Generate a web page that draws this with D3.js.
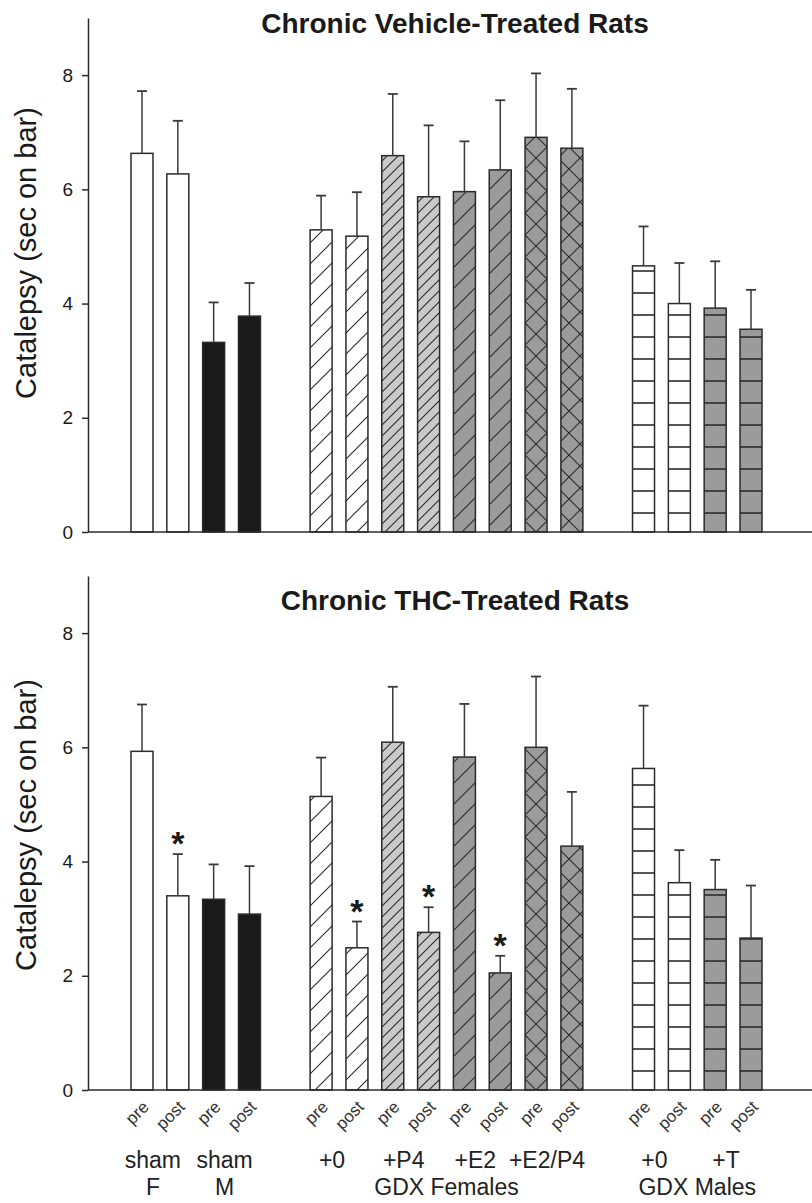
<!DOCTYPE html>
<html>
<head>
<meta charset="utf-8">
<script src="https://cdn.jsdelivr.net/npm/d3@7"></script>
<style>
  html, body { margin: 0; padding: 0; background: #fff; }
  svg { display: block; font-family: "Liberation Sans", Arial, sans-serif; }
</style>
</head>
<body>
<svg id="chart" width="812" height="1203"></svg>
<script>
/* ── DATA ───────────────────────────────────────────────────────────────────── */
const conditions = ['shamF', 'shamM', 'gdxF0', 'gdxFP4', 'gdxFE2', 'gdxFE2P4', 'gdxM0', 'gdxMT'];
const phases     = ['pre', 'post'];
const groupLine1 = ['sham', 'sham', '+0', '+P4', '+E2', '+E2/P4', '+0', '+T'];
const groupLine2 = ['F', 'M', '', '', '', '', '', ''];
const sections   = ['GDX Females', 'GDX Males'];
const sectionMembers = [['gdxF0', 'gdxFP4', 'gdxFE2', 'gdxFE2P4'], ['gdxM0', 'gdxMT']];

// slot order on the x axis, gaps included
const slots = [
  'shamF-pre', 'shamF-post', 'shamM-pre', 'shamM-post', 'gap1',
  'gdxF0-pre', 'gdxF0-post', 'gdxFP4-pre', 'gdxFP4-post',
  'gdxFE2-pre', 'gdxFE2-post', 'gdxFE2P4-pre', 'gdxFE2P4-post', 'gap2',
  'gdxM0-pre', 'gdxM0-post', 'gdxMT-pre', 'gdxMT-post'
];

const yTicks = [0, 2, 4, 6, 8];

// mean catalepsy (sec on bar) and SEM, one value per condition x phase
const vehicleMean = [6.63, 6.27, 3.32, 3.78, 5.29, 5.18, 6.59, 5.87, 5.96, 6.34, 6.91, 6.72, 4.66, 4.00, 3.92, 3.55];
const vehicleSem  = [1.09, 0.93, 0.70, 0.58, 0.60, 0.77, 1.08, 1.25, 0.88, 1.22, 1.12, 1.04, 0.69, 0.71, 0.82, 0.69];
const thcMean     = [5.93, 3.40, 3.34, 3.08, 5.14, 2.49, 6.09, 2.76, 5.83, 2.05, 6.00, 4.27, 5.63, 3.63, 3.51, 2.66];
const thcSem      = [0.82, 0.73, 0.61, 0.84, 0.68, 0.46, 0.97, 0.44, 0.93, 0.30, 1.24, 0.95, 1.10, 0.57, 0.52, 0.92];
const thcSignificant = ['shamF-post', 'gdxF0-post', 'gdxFP4-post', 'gdxFE2-post'];

const titles = ['Chronic Vehicle-Treated Rats', 'Chronic THC-Treated Rats'];
const yLabel = 'Catalepsy (sec on bar)';

/* ── STYLE ──────────────────────────────────────────────────────────────────── */
const INK   = '#2b2b2b';
const GRAY  = '#9b9b9b';
const LIGHT = '#cacaca';
const BLACK = '#1a1a1a';

const FILL = {
  shamF:    () => '#ffffff',
  shamM:    () => BLACK,
  gdxF0:    p => `url(#${p}-diagWhite)`,
  gdxFP4:   p => `url(#${p}-diagDense)`,
  gdxFE2:   p => `url(#${p}-diagGray)`,
  gdxFE2P4: p => `url(#${p}-cross)`,
  gdxM0:    p => `url(#${p}-hWhite)`,
  gdxMT:    p => `url(#${p}-hGray)`
};

const svg = d3.select('#chart');
svg.append('rect').attr('width', 812).attr('height', 1203).attr('fill', '#fff');
const defs = svg.append('defs');

/* ── SCALES ─────────────────────────────────────────────────────────────────── */
const x = d3.scaleBand()
  .domain(slots)
  .range([131, 762])
  .paddingInner(0.386)
  .paddingOuter(0);

const AXIS_X = 88;

function rows(mean, sem) {
  const out = [];
  conditions.forEach((c, ci) => {
    phases.forEach((ph, pi) => {
      const i = ci * 2 + pi;
      out.push({ key: `${c}-${ph}`, cond: c, phase: ph, mean: mean[i], sem: sem[i] });
    });
  });
  return out;
}

/* ── PATTERNS ───────────────────────────────────────────────────────────────── */
function addPatterns(prefix, y0) {
  const diag = (id, bg, s) => {
    const p = defs.append('pattern')
      .attr('id', `${prefix}-${id}`)
      .attr('patternUnits', 'userSpaceOnUse')
      .attr('width', s).attr('height', s)
      .attr('y', y0);
    p.append('rect').attr('width', s).attr('height', s).attr('fill', bg);
    p.append('path')
      .attr('d', `M0,${s} L${s},0 M${-s / 2},${s / 2} L${s / 2},${-s / 2} M${s / 2},${s * 1.5} L${s * 1.5},${s / 2}`)
      .attr('stroke', INK).attr('stroke-width', 1.1);
  };
  diag('diagWhite', '#fff', 21);
  diag('diagDense', LIGHT, 11);
  diag('diagGray', GRAY, 21);

  const s = 22;
  const cross = defs.append('pattern')
    .attr('id', `${prefix}-cross`)
    .attr('patternUnits', 'userSpaceOnUse')
    .attr('width', s).attr('height', s)
    .attr('x', 8).attr('y', y0);
  cross.append('rect').attr('width', s).attr('height', s).attr('fill', GRAY);
  cross.append('path')
    .attr('d', `M0,${s} L${s},0 M0,0 L${s},${s} M${-s / 2},${s / 2} L${s / 2},${-s / 2} M${s / 2},${s * 1.5} L${s * 1.5},${s / 2} M${-s / 2},${s / 2} L${s / 2},${s * 1.5} M${s / 2},${-s / 2} L${s * 1.5},${s / 2}`)
    .attr('stroke', INK).attr('stroke-width', 1.1);

  const horiz = (id, bg) => {
    const p = defs.append('pattern')
      .attr('id', `${prefix}-${id}`)
      .attr('patternUnits', 'userSpaceOnUse')
      .attr('width', 10).attr('height', 22)
      .attr('y', y0 - 19 - 11);
    p.append('rect').attr('width', 10).attr('height', 22).attr('fill', bg);
    p.append('line').attr('x1', 0).attr('x2', 10).attr('y1', 11).attr('y2', 11)
      .attr('stroke', INK).attr('stroke-width', 1.6);
  };
  horiz('hWhite', '#fff');
  horiz('hGray', GRAY);
}

/* ── PANEL ──────────────────────────────────────────────────────────────────── */
function drawPanel(opts) {
  const { prefix, y0, yTop, title, titleY, labelY, data, stars, xLabels } = opts;
  addPatterns(prefix, y0);

  const y = d3.scaleLinear().domain([0, 9]).range([y0, yTop]);
  const g = svg.append('g').attr('class', prefix);

  // title
  g.append('text')
    .attr('x', 455).attr('y', titleY)
    .attr('text-anchor', 'middle')
    .attr('font-size', 28).attr('font-weight', 'bold')
    .attr('fill', BLACK)
    .text(title);

  // y axis
  const yAxis = g.append('g')
    .attr('transform', `translate(${AXIS_X},0)`)
    .call(d3.axisLeft(y).tickValues(yTicks).tickSize(6).tickSizeOuter(0).tickPadding(9));
  yAxis.select('.domain').attr('stroke', INK).attr('stroke-width', 1.5);
  yAxis.selectAll('.tick line').attr('stroke', INK).attr('stroke-width', 1.5);
  yAxis.selectAll('.tick text')
    .attr('font-size', 19).attr('fill', BLACK)
    .attr('font-family', '"Liberation Sans", Arial, sans-serif');

  g.append('text')
    .attr('transform', `translate(36,${labelY}) rotate(-90)`)
    .attr('text-anchor', 'middle')
    .attr('font-size', 29)
    .attr('fill', BLACK)
    .text(yLabel);

  // bars
  g.selectAll('rect.bar')
    .data(data)
    .join('rect')
    .attr('class', 'bar')
    .attr('x', d => x(d.key))
    .attr('width', x.bandwidth())
    .attr('y', d => y(d.mean))
    .attr('height', d => y(0) - y(d.mean))
    .attr('fill', d => FILL[d.cond](prefix))
    .attr('stroke', INK)
    .attr('stroke-width', 1.5);

  // error bars (upper only)
  const eb = g.selectAll('g.err').data(data).join('g').attr('class', 'err');
  eb.append('line')
    .attr('x1', d => x(d.key) + x.bandwidth() / 2)
    .attr('x2', d => x(d.key) + x.bandwidth() / 2)
    .attr('y1', d => y(d.mean))
    .attr('y2', d => y(d.mean + d.sem))
    .attr('stroke', '#3a3a3a').attr('stroke-width', 1.5);
  eb.append('line')
    .attr('x1', d => x(d.key) + x.bandwidth() / 2 - 5)
    .attr('x2', d => x(d.key) + x.bandwidth() / 2 + 5)
    .attr('y1', d => y(d.mean + d.sem))
    .attr('y2', d => y(d.mean + d.sem))
    .attr('stroke', '#3a3a3a').attr('stroke-width', 1.8);

  // significance stars
  g.selectAll('text.star')
    .data(data.filter(d => stars.includes(d.key)))
    .join('text')
    .attr('class', 'star')
    .attr('x', d => x(d.key) + x.bandwidth() / 2)
    .attr('y', d => y(d.mean + d.sem) + 1)
    .attr('text-anchor', 'middle')
    .attr('font-size', 34).attr('font-weight', 'bold')
    .attr('fill', BLACK)
    .text('*');

  // x axis line
  g.append('line')
    .attr('x1', AXIS_X).attr('x2', 812)
    .attr('y1', y0).attr('y2', y0)
    .attr('stroke', INK).attr('stroke-width', 1.5);

  if (!xLabels) return;

  // pre / post labels
  g.selectAll('text.phase')
    .data(data)
    .join('text')
    .attr('class', 'phase')
    .attr('transform', d => `translate(${x(d.key) + x.bandwidth() / 2 + 8},${y0 + 18}) rotate(-45)`)
    .attr('text-anchor', 'end')
    .attr('font-size', 17)
    .attr('fill', '#333')
    .text(d => d.phase);

  // group labels
  const pairCenter = c => (x(`${c}-pre`) + x(`${c}-post`) + x.bandwidth()) / 2 - 7;
  conditions.forEach((c, i) => {
    g.append('text')
      .attr('x', pairCenter(c)).attr('y', y0 + 78)
      .attr('text-anchor', 'middle')
      .attr('font-size', 23).attr('fill', '#222')
      .text(groupLine1[i]);
    if (groupLine2[i]) {
      g.append('text')
        .attr('x', pairCenter(c)).attr('y', y0 + 105)
        .attr('text-anchor', 'middle')
        .attr('font-size', 23).attr('fill', '#222')
        .text(groupLine2[i]);
    }
  });

  sections.forEach((s, i) => {
    const m = sectionMembers[i];
    const cx = (x(`${m[0]}-pre`) + x(`${m[m.length - 1]}-post`) + x.bandwidth()) / 2;
    g.append('text')
      .attr('x', cx).attr('y', y0 + 105)
      .attr('text-anchor', 'middle')
      .attr('font-size', 23).attr('fill', '#222')
      .text(s);
  });
}

/* ── DRAW ───────────────────────────────────────────────────────────────────── */
drawPanel({
  prefix: 'veh', y0: 532, yTop: 18, title: titles[0], titleY: 33, labelY: 253,
  data: rows(vehicleMean, vehicleSem), stars: [], xLabels: false
});

drawPanel({
  prefix: 'thc', y0: 1090, yTop: 576, title: titles[1], titleY: 610, labelY: 825,
  data: rows(thcMean, thcSem), stars: thcSignificant, xLabels: true
});
</script>
</body>
</html>
